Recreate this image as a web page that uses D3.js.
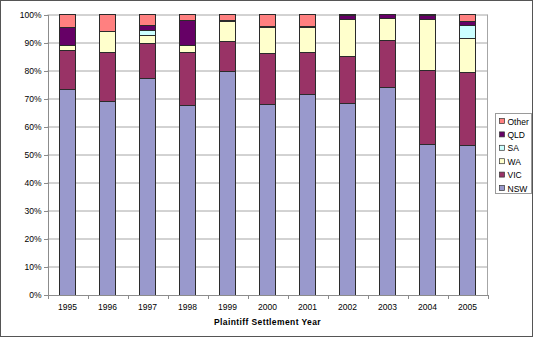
<!DOCTYPE html>
<meta charset="utf-8">
<style>
 body { margin: 0; background: #fff; }
 text { font-family: "Liberation Sans", Arial, sans-serif; fill: #000; }
 .grid line { stroke: #a6a6a6; stroke-width: 1px; }
 .axis path, .axis line { stroke: #8c8c8c; shape-rendering: crispEdges; }
 .bar rect { stroke: #2b2b2b; stroke-width: 1px; shape-rendering: crispEdges; }
</style>
<body>
<script src="https://d3js.org/d3.v7.min.js"></script>
<script>
 // Share of settlements by state, per year (percent)
 var years = ["1995", "1996", "1997", "1998", "1999", "2000", "2001", "2002", "2003", "2004", "2005"];
 var nsw   = [73.2, 69.0, 77.1, 67.5, 79.7, 67.9, 71.4, 68.4, 73.9, 53.7, 53.3];
 var vic   = [14.0, 17.4, 12.6, 18.9, 10.6, 18.2, 15.1, 16.5, 16.7, 26.3, 25.9];
 var wa    = [1.8, 7.7, 2.7, 2.4, 7.2, 9.2, 8.8, 13.2, 7.9, 18.1, 12.1];
 var sa    = [0, 0, 1.8, 0, 0, 0, 0, 0, 0, 0, 4.7];
 var qld   = [6.5, 0, 1.9, 9.0, 0.4, 0.4, 0.4, 1.4, 1.5, 1.5, 1.5];
 var other = [4.5, 5.9, 3.9, 2.2, 2.1, 4.3, 4.3, 0.5, 0, 0.4, 2.5];

 var seriesNames = ["NSW", "VIC", "WA", "SA", "QLD", "Other"];
 var seriesColors = ["#9999cc", "#993366", "#ffffcc", "#ccffff", "#660066", "#ff8080"];
 var yTicks = [0, 10, 20, 30, 40, 50, 60, 70, 80, 90, 100];

 var W = 533, H = 337;
 var margin = { top: 14.5, left: 47.5, right: 46, bottom: 42 };
 var width = 487.5 - margin.left,
     height = 295 - margin.top;

 var table = years.map(function (yr, i) {
   return { year: yr, NSW: nsw[i], VIC: vic[i], WA: wa[i], SA: sa[i], QLD: qld[i], Other: other[i] };
 });

 var svg = d3.select("body").append("svg")
   .attr("width", W).attr("height", H);

 // outer frame
 svg.append("rect")
   .attr("x", 0.5).attr("y", 0.5)
   .attr("width", W - 1).attr("height", H - 1)
   .attr("fill", "#fff").attr("stroke", "#555");

 var g = svg.append("g")
   .attr("transform", "translate(" + margin.left + "," + margin.top + ")");

 var x = d3.scaleBand().domain(years).range([0, width]).paddingInner(0.6).paddingOuter(0.3);
 var xb = d3.scaleBand().domain(years).range([0, width]);
 var y = d3.scaleLinear().domain([0, 100]).range([height, 0]);

 // gridlines
 g.append("g").attr("class", "grid")
   .selectAll("line").data(yTicks.slice(1)).enter().append("line")
   .attr("x1", 0).attr("x2", width)
   .attr("y1", function (d) { return Math.round(y(d)) + 0.5; })
   .attr("y2", function (d) { return Math.round(y(d)) + 0.5; });

 // right border of plot
 g.append("line")
   .attr("x1", width).attr("x2", width).attr("y1", 0).attr("y2", height)
   .attr("stroke", "#a6a6a6");

 var stack = d3.stack().keys(seriesNames);
 var layers = stack(table);

 g.selectAll(".bar").data(layers).enter().append("g")
   .attr("class", "bar")
   .attr("fill", function (d, i) { return seriesColors[i]; })
   .selectAll("rect").data(function (d) { return d.filter(function (p) { return p[1] - p[0] > 0; }); })
   .enter().append("rect")
   .attr("x", function (d) { return x(d.data.year); })
   .attr("width", x.bandwidth())
   .attr("y", function (d) { return y(d[1]); })
   .attr("height", function (d) { return y(d[0]) - y(d[1]); });

 // y axis
 var yAxis = g.append("g").attr("class", "axis")
   .call(d3.axisLeft(y).tickValues(yTicks).tickSize(4).tickSizeOuter(0)
     .tickFormat(function (d) { return d + "%"; }));
 yAxis.selectAll("text").attr("font-size", "8.5px").attr("x", -6);

 // x axis
 var xAxis = g.append("g").attr("class", "axis")
   .attr("transform", "translate(0," + height + ")")
   .call(d3.axisBottom(xb).tickSize(0).tickSizeOuter(0));
 xAxis.selectAll("text").attr("font-size", "8.5px").attr("dy", "0").attr("y", 15);
 xAxis.selectAll(".tickmark").data(d3.range(years.length + 1)).enter().append("line")
   .attr("class", "tickmark")
   .attr("x1", function (i) { return Math.round(i * xb.step()) + 0.5; })
   .attr("x2", function (i) { return Math.round(i * xb.step()) + 0.5; })
   .attr("y1", 0).attr("y2", 4);

 // axis title
 svg.append("text")
   .attr("x", margin.left + width / 2)
   .attr("y", 325)
   .attr("text-anchor", "middle")
   .attr("font-size", "8.5px")
   .attr("font-weight", "bold")
   .attr("letter-spacing", "0.4px")
   .text("Plaintiff Settlement Year");

 // legend
 var lg = svg.append("g").attr("transform", "translate(495.5,113.5)");
 lg.append("rect").attr("width", 36).attr("height", 80)
   .attr("fill", "#fff").attr("stroke", "#9a9a9a");
 var items = lg.selectAll(".item").data(seriesNames.slice().reverse()).enter().append("g")
   .attr("transform", function (d, i) { return "translate(4," + (8 + i * 13.4) + ")"; });
 items.append("rect")
   .attr("x", 0).attr("y", -3).attr("width", 5).attr("height", 5)
   .attr("fill", function (d) { return seriesColors[seriesNames.indexOf(d)]; })
   .attr("stroke", "#333").attr("stroke-width", 0.7);
 items.append("text")
   .attr("x", 8).attr("y", 3)
   .attr("font-size", "8.5px")
   .text(function (d) { return d; });
</script>
</body>
